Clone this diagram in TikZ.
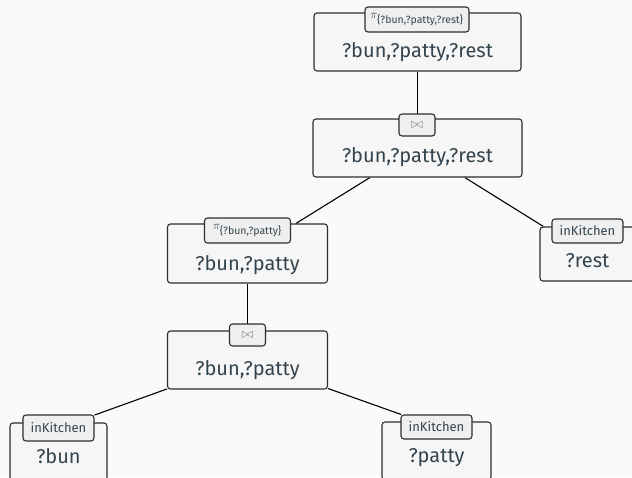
\documentclass[tikz,border=0pt]{standalone}
\usepackage{fontspec}
\setmainfont{Fira Sans}
\usetikzlibrary{backgrounds}
\definecolor{bordc}{HTML}{2E2E2E}
\definecolor{boxc}{HTML}{F6F6F6}
\definecolor{labc}{HTML}{EFEFEF}
\definecolor{txtc}{HTML}{34444E}
\definecolor{bgc}{HTML}{FAFAFA}
\tikzset{
  opbox/.style={draw=bordc, fill=boxc, rounded corners=3pt, line width=1.1pt, inner sep=0pt, minimum height=58pt},
  oplab/.style={draw=bordc, fill=labc, rounded corners=3pt, line width=1.1pt, inner sep=0pt, text=txtc, font=\fontsize{13}{15}\selectfont},
  joinlab/.style={oplab, minimum width=36pt, minimum height=22pt, text=gray, font=\fontsize{14}{16}\selectfont},
  optext/.style={anchor=base, inner sep=0pt, text=txtc, font=\fontsize{20}{24}\selectfont},
  edge/.style={draw=black, line width=1.1pt}
}
\newcommand{\subtxt}[1]{\mbox{\fontsize{10.5}{12}\selectfont #1}}
\begin{document}
\begin{tikzpicture}[x=1pt,y=-1pt]
\clip (0,0) rectangle (632,477);
% top projection
\node[opbox, minimum width=207pt] (p1) at (417.5,42) {};
\node[oplab, minimum width=104pt, minimum height=25pt] (p1l) at (417,19.5) {$\pi_{\subtxt{\{?bun,?patty,?rest\}}}$};
\node[optext] (p1t) at (417.5,57) {?bun,?patty,?rest};
% top join
\node[opbox, minimum width=209pt] (j1) at (417.5,148) {};
\node[joinlab] (j1l) at (417,125) {$\bowtie$};
\node[optext] (j1t) at (417.5,162) {?bun,?patty,?rest};
% second projection
\node[opbox, minimum width=160pt, minimum height=59pt] (p2) at (247.5,253.5) {};
\node[oplab, minimum width=86pt, minimum height=25pt] (p2l) at (247.5,230.5) {$\pi_{\subtxt{\{?bun,?patty\}}}$};
\node[optext] (p2t) at (247.5,270) {?bun,?patty};
% second join
\node[opbox, minimum width=160pt] (j2) at (247.5,360) {};
\node[joinlab] (j2l) at (247.5,335) {$\bowtie$};
\node[optext] (j2t) at (247.5,375) {?bun,?patty};
% rest
\node[opbox, minimum width=95pt, minimum height=54pt] (r) at (587.5,254) {};
\node[oplab, minimum width=71pt, minimum height=24pt] (rl) at (587.5,231) {inKitchen};
\node[optext] (rt) at (587.5,267) {?rest};
% bun
\node[opbox, minimum width=97pt] (b) at (58.5,452) {};
\node[oplab, minimum width=71pt, minimum height=26pt] (bl) at (58.5,428) {inKitchen};
\node[optext] (bt) at (58.5,463) {?bun};
% patty
\node[opbox, minimum width=109pt] (pt) at (436.5,451) {};
\node[oplab, minimum width=71pt, minimum height=24pt] (ptl) at (436.5,427) {inKitchen};
\node[optext] (ptt) at (436.5,462) {?patty};
\begin{scope}[on background layer]
\fill[bgc] (0,0) rectangle (632,477);
\draw[edge] (p1) -- (j1);
\draw[edge] (j1) -- (p2);
\draw[edge] (j1) -- (r);
\draw[edge] (p2) -- (j2);
\draw[edge] (j2) -- (bl);
\draw[edge] (j2) -- (ptl);
\end{scope}
\end{tikzpicture}
\end{document}
